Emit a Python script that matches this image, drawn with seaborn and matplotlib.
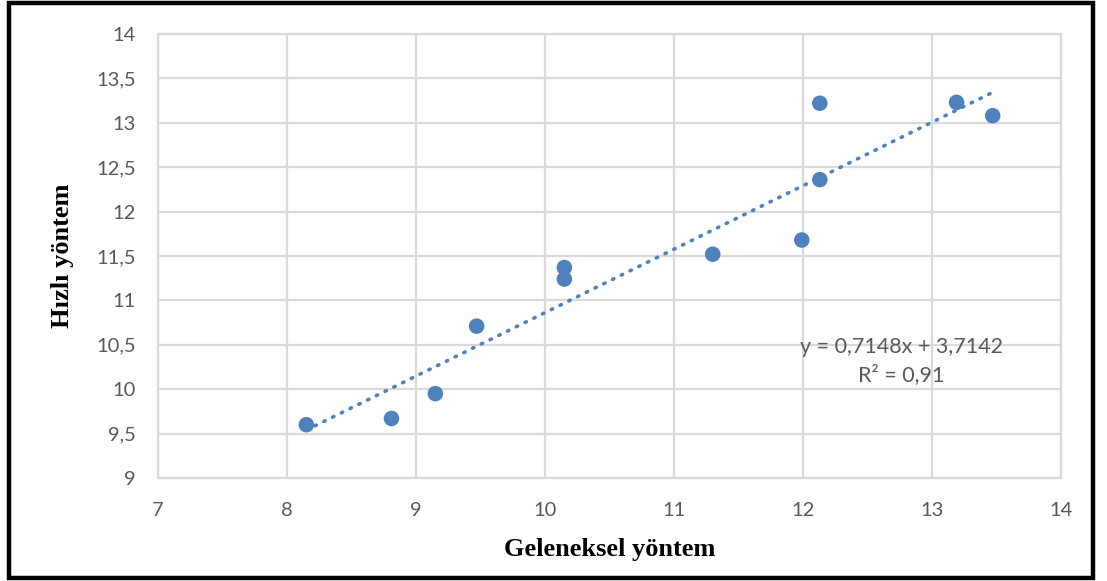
import matplotlib
matplotlib.use("Agg")
import matplotlib.pyplot as plt
from matplotlib.patches import Rectangle
from matplotlib.ticker import FuncFormatter
import numpy as np
import pandas as pd
import seaborn as sns

# Measurements: conventional method vs. rapid method
geleneksel = [8.15, 8.81, 9.15, 9.47, 10.15, 10.15, 11.30, 11.99, 12.13, 12.13, 13.19, 13.47]
hizli = [9.60, 9.67, 9.95, 10.71, 11.37, 11.24, 11.52, 11.68, 12.36, 13.22, 13.23, 13.08]

# Linear trend line coefficients and fit quality
egim = 0.7148
kesim = 3.7142
r_kare = 0.91

x_ticks = [7, 8, 9, 10, 11, 12, 13, 14]
y_ticks = [9, 9.5, 10, 10.5, 11, 11.5, 12, 12.5, 13, 13.5, 14]

df = pd.DataFrame({"Geleneksel yöntem": geleneksel, "Hızlı yöntem": hizli})

sns.set_theme(style="white")
plt.rcParams["font.family"] = ["Lato", "DejaVu Sans"]

blue = "#4f81bd"
grid_gray = "#d9d9d9"
text_gray = "#595959"

fig = plt.figure(figsize=(11.07, 5.81), dpi=100)
ax = fig.add_axes([0.1427, 0.1773, 0.9585 - 0.1427, 0.9415 - 0.1773])

sns.scatterplot(data=df, x="Geleneksel yöntem", y="Hızlı yöntem", ax=ax,
                color=blue, s=125, edgecolor="none", zorder=3)

xs = np.array([min(geleneksel), max(geleneksel)])
ax.plot(xs, egim * xs + kesim, color=blue, linewidth=2.6,
        linestyle=(0, (0.4, 2.3)), dash_capstyle="round", zorder=2)

ax.set_xlim(7, 14)
ax.set_ylim(9, 14)
ax.set_xticks(x_ticks)
ax.set_yticks(y_ticks)

def comma_fmt(v, pos):
    s = f"{v:g}"
    return s.replace(".", ",")

ax.xaxis.set_major_formatter(FuncFormatter(comma_fmt))
ax.yaxis.set_major_formatter(FuncFormatter(comma_fmt))
ax.tick_params(axis="both", labelsize=14.5, colors=text_gray, length=0)
ax.tick_params(axis="x", pad=17)
ax.tick_params(axis="y", pad=16)

ax.grid(True, color=grid_gray, linewidth=1.6)
ax.set_axisbelow(True)
for sp in ax.spines.values():
    sp.set_color(grid_gray)
    sp.set_linewidth(1.6)

ax.set_xlabel("Geleneksel yöntem", fontsize=19, fontweight="bold",
              family="Liberation Serif", color="black", labelpad=14)
ax.set_ylabel("Hızlı yöntem", fontsize=19, fontweight="bold",
              family="Liberation Serif", color="black", labelpad=16)

eq = f"y = {egim:.4f}x + {kesim:.4f}".replace(".", ",")
r2 = f"R² = {r_kare:.2f}".replace(".", ",")
ax.text(12.76, 10.32, eq + "\n" + r2, ha="center", va="center",
        fontsize=15.5, color=text_gray, linespacing=1.45)

fig.patches.append(Rectangle((9 / 1107, 3 / 581), 1084 / 1107, 575 / 581,
                             transform=fig.transFigure, fill=False,
                             edgecolor="black", linewidth=3.2, zorder=10))

fig.savefig("out.png", dpi=100)
